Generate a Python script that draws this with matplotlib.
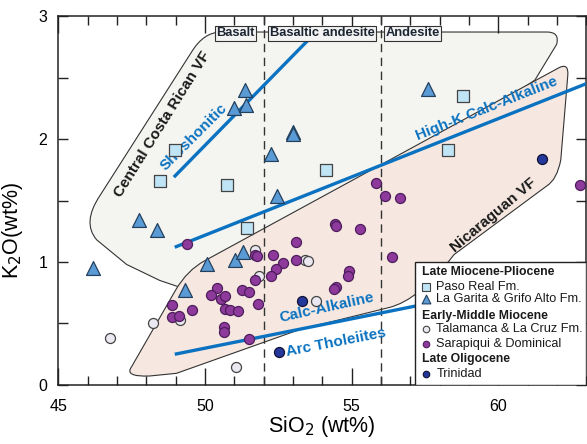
import matplotlib
matplotlib.use("Agg")
import matplotlib.pyplot as plt
from matplotlib.path import Path
from matplotlib.patches import PathPatch, Rectangle
from matplotlib.ticker import MultipleLocator

plt.rcParams['font.family'] = ['Liberation Sans', 'DejaVu Sans']

# ---------------- data ----------------
paso_real_sio2 = [48.97, 48.46, 50.75, 51.43, 54.13, 58.81, 58.27]
paso_real_k2o = [1.91, 1.66, 1.63, 1.28, 1.75, 2.35, 1.91]

garita_sio2 = [51.35, 50.99, 51.41, 52.99, 52.99, 52.26, 52.46, 57.61,
               47.76, 48.35, 46.19, 50.07, 49.31, 51.04, 51.29]
garita_k2o = [2.40, 2.25, 2.28, 2.06, 2.04, 1.88, 1.54, 2.41,
              1.34, 1.26, 0.95, 0.98, 0.77, 1.02, 1.08]

talamanca_sio2 = [46.76, 48.23, 49.14, 51.07, 51.69, 51.84, 53.40, 53.50, 53.77]
talamanca_k2o = [0.38, 0.50, 0.53, 0.15, 1.10, 0.89, 1.02, 1.01, 0.68]

sarapiqui_sio2 = [49.40, 51.70, 51.78, 52.31, 52.65, 52.43, 52.26, 51.72, 50.41,
                  51.26, 51.49, 50.22, 50.53, 50.68, 51.82, 48.86, 49.56, 50.68,
                  50.84, 51.12, 48.86, 49.12, 50.66, 50.66, 51.50, 54.45, 54.47,
                  55.29, 53.10, 53.10, 54.90, 54.87, 54.47, 54.39, 55.83, 56.14,
                  56.65, 56.36, 62.77]
sarapiqui_k2o = [1.15, 1.06, 1.05, 1.06, 0.99, 0.94, 0.89, 0.85, 0.79,
                 0.77, 0.76, 0.73, 0.70, 0.72, 0.66, 0.65, 0.61, 0.62,
                 0.61, 0.60, 0.55, 0.56, 0.47, 0.43, 0.37, 1.31, 1.29,
                 1.27, 1.16, 1.02, 0.93, 0.89, 0.80, 0.78, 1.64, 1.54,
                 1.52, 1.04, 1.63]

trinidad_sio2 = [53.30, 52.51, 61.50]
trinidad_k2o = [0.68, 0.27, 1.84]

# classification lines
shoshonitic_x = [48.94, 53.50]
shoshonitic_y = [1.69, 2.80]
highk_x = [48.97, 63.0]
highk_y = [1.12, 2.45]
calcalk_x = [48.97, 63.0]
calcalk_y = [0.25, 0.92]
rock_boundaries = [52, 56]
rock_names = ['Basalt', 'Basaltic andesite', 'Andesite']
rock_label_x = [51.05, 54.0, 57.08]

# field outlines (SiO2, K2O)
ccr_field = [(50.56, 2.87), (61.66, 2.87), (62.10, 2.87), (61.99, 2.77),
             (61.25, 2.48), (58.32, 2.00), (49.82, 0.89), (49.08, 0.80),
             (48.46, 0.85), (47.33, 0.98), (46.31, 1.18), (45.80, 1.32),
             (46.42, 1.54), (49.55, 2.71), (49.96, 2.87), (50.56, 2.87)]
ccr_codes = [Path.MOVETO, Path.LINETO, Path.CURVE3, Path.CURVE3,
             Path.LINETO, Path.LINETO, Path.LINETO, Path.LINETO,
             Path.LINETO, Path.LINETO, Path.LINETO, Path.CURVE3,
             Path.CURVE3, Path.LINETO, Path.CURVE3, Path.CURVE3]

nic_field = [(49.99, 1.01), (62.07, 2.58), (62.40, 2.62), (62.37, 2.52),
             (62.13, 1.83), (62.00, 1.67), (61.66, 1.62), (58.49, 1.06),
             (57.30, 0.69), (56.28, 0.63), (53.22, 0.45), (49.03, 0.095),
             (48.11, 0.073), (47.23, 0.065), (47.50, 0.149), (49.00, 0.772),
             (49.40, 0.935), (49.99, 1.01)]
nic_codes = [Path.MOVETO, Path.LINETO, Path.CURVE3, Path.CURVE3,
             Path.LINETO, Path.CURVE3, Path.CURVE3, Path.LINETO,
             Path.CURVE3, Path.CURVE3, Path.LINETO, Path.LINETO,
             Path.LINETO, Path.CURVE3, Path.CURVE3, Path.LINETO,
             Path.CURVE3, Path.CURVE3]

# ---------------- figure ----------------
fig = plt.figure(figsize=(5.87, 4.44), dpi=100)
ax = fig.add_axes([0.0993, 0.1329, 0.8995, 0.831])
ax.set_xlim(45, 63)
ax.set_ylim(0, 3)

blue = '#0a72c0'
ax.add_patch(PathPatch(Path(ccr_field, ccr_codes), fc='#f4f4f1', ec='#333333', lw=0.8, zorder=1))
ax.add_patch(PathPatch(Path(nic_field, nic_codes), fc='#f6e8e1', ec='#333333', lw=0.8, zorder=1.1))

for xb in rock_boundaries:
    ax.axvline(xb, color='#333333', lw=1.0, ls=(0, (6, 4)), zorder=2)

for lx, ly in [(shoshonitic_x, shoshonitic_y), (highk_x, highk_y), (calcalk_x, calcalk_y)]:
    ax.plot(lx, ly, color=blue, lw=2.4, solid_capstyle='butt', zorder=3)

ax.scatter(paso_real_sio2, paso_real_k2o, marker='s', s=64, fc='#bfe4f6', ec='#444444', lw=0.9, zorder=4)
ax.scatter(garita_sio2, garita_k2o, marker='^', s=100, fc='#5b9bd5', ec='#23405e', lw=0.9, zorder=4)
ax.scatter(talamanca_sio2, talamanca_k2o, marker='o', s=52, fc='#ece8f2', ec='#444444', lw=0.9, zorder=4)
ax.scatter(sarapiqui_sio2, sarapiqui_k2o, marker='o', s=52, fc='#8e3a9d', ec='#4e1d5c', lw=0.9, zorder=4)
ax.scatter(trinidad_sio2, trinidad_k2o, marker='o', s=52, fc='#23389a', ec='#111133', lw=0.9, zorder=4)

# rock name boxes
for name, xc in zip(rock_names, rock_label_x):
    ax.text(xc, 2.858, name, ha='center', va='center', fontsize=9.3, fontweight='bold',
            color='#1c2633', zorder=6,
            bbox=dict(boxstyle='square,pad=0.12', fc='#f3f3f3', ec='#333333', lw=0.8))

# field labels
ax.text(48.55, 2.12, 'Central Costa Rican VF', rotation=58, ha='center', va='center',
        fontsize=11, fontweight='bold', color='#1a1a1a', zorder=3.5)
ax.text(59.85, 1.38, 'Nicaraguan VF', rotation=40, ha='center', va='center',
        fontsize=11, fontweight='bold', color='#1a1a1a', zorder=3.5)
ax.text(49.62, 2.015, 'Shoshonitic', rotation=45, ha='center', va='center',
        fontsize=11, fontweight='bold', color=blue, zorder=3.5)
ax.text(59.62, 2.245, 'High-K Calc-Alkaline', rotation=21.6, ha='center', va='center',
        fontsize=11, fontweight='bold', color=blue, zorder=3.5)
ax.text(54.14, 0.625, 'Calc-Alkaline', rotation=12.5, ha='center', va='center',
        fontsize=11, fontweight='bold', color=blue, zorder=3.5)
ax.text(54.47, 0.35, 'Arc Tholeiites', rotation=11, ha='center', va='center',
        fontsize=11, fontweight='bold', color=blue, zorder=3.5)

# axes styling
ax.xaxis.set_major_locator(MultipleLocator(5))
ax.xaxis.set_minor_locator(MultipleLocator(1))
ax.yaxis.set_major_locator(MultipleLocator(1))
ax.yaxis.set_minor_locator(MultipleLocator(0.5))
ax.tick_params(which='both', direction='in', top=True, right=True, width=1.0, color='#222222')
ax.tick_params(axis='x', which='major', length=12, pad=10, labelsize=11.5)
ax.tick_params(axis='x', which='minor', length=6.5)
ax.tick_params(axis='y', which='major', length=7, pad=8, labelsize=11.5)
ax.tick_params(axis='y', which='minor', length=7)
for sp in ax.spines.values():
    sp.set_linewidth(1.1)
    sp.set_color('#222222')
ax.set_xlabel('SiO$_2$ (wt%)', fontsize=15.5, labelpad=0)
ax.set_ylabel('K$_2$O(wt%)', fontsize=15.5)
ax.yaxis.set_label_coords(-0.063, 0.42)

# legend (drawn in axes coordinates)
ax.add_patch(Rectangle((0.675, 0.0), 0.325, 0.333, transform=ax.transAxes,
                       fc='white', ec='#222222', lw=1.0, zorder=7))
hx, mx, tx = 0.689, 0.697, 0.716
rows = [
    ('head', 'Late Miocene-Pliocene', 0.305, None),
    ('item', 'Paso Real Fm.', 0.266, dict(marker='s', s=28, fc='#bfe4f6', ec='#444444')),
    ('item', 'La Garita & Grifo Alto Fm.', 0.232, dict(marker='^', s=40, fc='#5b9bd5', ec='#23405e')),
    ('head', 'Early-Middle Miocene', 0.187, None),
    ('item', 'Talamanca & La Cruz Fm.', 0.151, dict(marker='o', s=22, fc='#ece8f2', ec='#444444')),
    ('item', 'Sarapiqui & Dominical', 0.110, dict(marker='o', s=22, fc='#8e3a9d', ec='#4e1d5c')),
    ('head', 'Late Oligocene', 0.070, None),
    ('item', 'Trinidad', 0.030, dict(marker='o', s=22, fc='#23389a', ec='#111133')),
]
for kind, label, yy, mk in rows:
    if kind == 'head':
        ax.text(hx, yy, label, transform=ax.transAxes, fontsize=8.8, fontweight='bold',
                va='center', ha='left', color='#1a1a1a', zorder=8)
    else:
        ax.scatter([mx], [yy], transform=ax.transAxes, lw=0.8, zorder=8, clip_on=False, **mk)
        ax.text(tx, yy, label, transform=ax.transAxes, fontsize=9.2,
                va='center', ha='left', color='#1a1a1a', zorder=8)

fig.savefig('out.png', dpi=100)
